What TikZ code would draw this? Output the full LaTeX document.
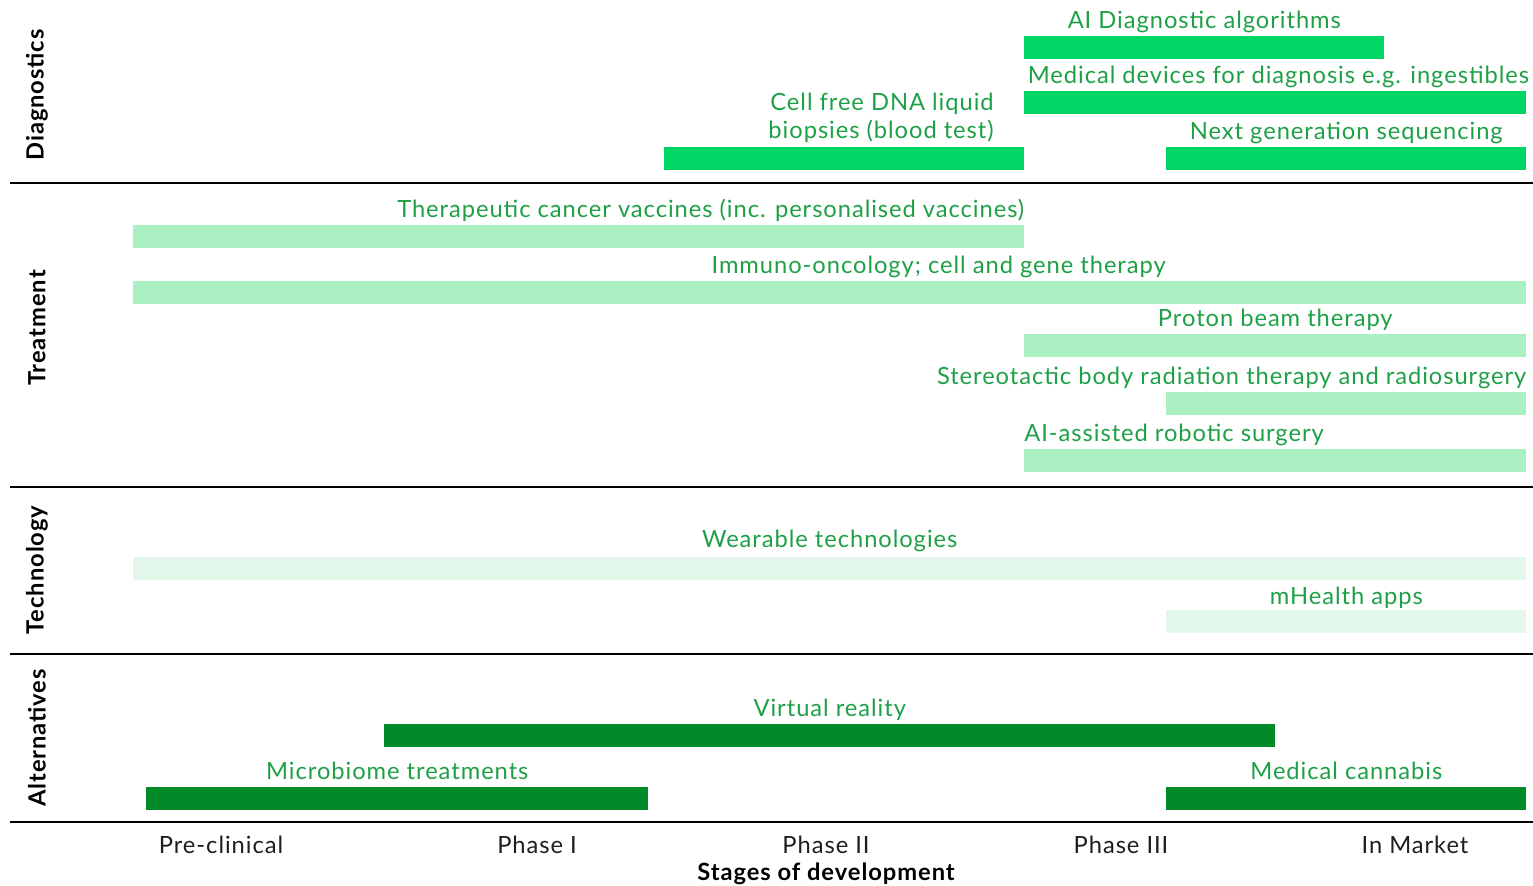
\documentclass[tikz,border=0pt]{standalone}
\usepackage{fontspec}
\setmainfont{Lato}[LetterSpace=4]
\usepackage{xcolor}
\usetikzlibrary{positioning}

\definecolor{diagGreen}{RGB}{0,214,100}
\definecolor{treatGreen}{RGB}{170,240,195}
\definecolor{techGreen}{RGB}{227,248,234}
\definecolor{altGreen}{RGB}{0,138,40}
\definecolor{labelGreen}{RGB}{30,160,70}
\definecolor{axisGrey}{RGB}{30,30,30}

\begin{document}
\begin{tikzpicture}[x=0.02cm, y=-0.02cm,
font=\fontsize{13.5}{16.5}\selectfont]

\tikzstyle{gbar}=[rectangle, draw=none, inner sep=0pt, anchor=north west,
minimum height=0.46cm]
\tikzstyle{diagbar}=[gbar, fill=diagGreen]
\tikzstyle{treatbar}=[gbar, fill=treatGreen]
\tikzstyle{techbar}=[gbar, fill=techGreen]
\tikzstyle{altbar}=[gbar, fill=altGreen]
\tikzstyle{lbl}=[text=labelGreen, inner sep=0pt]
\tikzstyle{stage}=[text=axisGrey, inner sep=0pt, anchor=base]
\tikzstyle{group}=[rotate=90, font=\fontsize{13.5}{16}\selectfont\bfseries, inner sep=0pt]
\tikzstyle{sep}=[black, line width=1.4pt]

\useasboundingbox (0,0) rectangle (1533,885);

%group titles
\node[group] (gdiag) at (37,95) {Diagnostics};
\node[group] (gtreat) at (37,328) {Treatment};
\node[group] (gtech) at (37,570) {Technology};
\node[group] (galt) at (37,738) {Alternatives};

%separators
\draw[sep] (10,183) -- (1533,183);
\draw[sep] (10,487) -- (1533,487);
\draw[sep] (10,654) -- (1533,654);
\draw[sep] (10,822) -- (1533,822);

%diagnostics
\node[diagbar, minimum width=7.2cm] (aidx) at (1024,36) {};
\node[lbl, above=4.5pt of aidx, anchor=base] (aidxl) {AI Diagnostic algorithms};

\node[diagbar, minimum width=10.04cm] (meddev) at (1024,91) {};
\node[lbl, above=4.5pt of meddev.north west, anchor=base west, xshift=2pt]
(meddevl) {Medical devices for diagnosis e.g. ingestibles};

\node[diagbar, minimum width=7.2cm] (cfdna) at (664,147) {};
\node[lbl, align=right, anchor=base east] (cfdnal) at (994,139)
{Cell free DNA liquid\\biopsies (blood test)};

\node[diagbar, minimum width=7.2cm] (ngs) at (1166,147) {};
\node[lbl, above=4.5pt of ngs, anchor=base] (ngsl) {Next generation sequencing};

%treatment
\node[treatbar, minimum width=17.82cm] (vacc) at (133,225) {};
\node[lbl, above=4.5pt of vacc.north east, anchor=base east]
(vaccl) {Therapeutic cancer vaccines (inc. personalised vaccines)};

\node[treatbar, minimum width=27.86cm] (immuno) at (133,281) {};
\node[lbl, anchor=base east] (immunol) at (1166,273)
{Immuno-oncology; cell and gene therapy};

\node[treatbar, minimum width=10.04cm] (proton) at (1024,334) {};
\node[lbl, above=4.5pt of proton, anchor=base] (protonl) {Proton beam therapy};

\node[treatbar, minimum width=7.2cm] (sbrt) at (1166,392) {};
\node[lbl, above=4.5pt of sbrt.north east, anchor=base east]
(sbrtl) {Stereotactic body radiation therapy and radiosurgery};

\node[treatbar, minimum width=10.04cm] (robot) at (1024,449) {};
\node[lbl, above=4.5pt of robot.north west, anchor=base west]
(robotl) {AI-assisted robotic surgery};

%technology
\node[techbar, minimum width=27.86cm] (wear) at (133,557) {};
\node[lbl, above=5.5pt of wear, anchor=base] (wearl) {Wearable technologies};

\node[techbar, minimum width=7.2cm] (mhealth) at (1166,610) {};
\node[lbl, above=3pt of mhealth, anchor=base] (mhealthl) {mHealth apps};

%alternatives
\node[altbar, minimum width=17.82cm] (vr) at (384,724) {};
\node[lbl, above=4.5pt of vr, anchor=base] (vrl) {Virtual reality};

\node[altbar, minimum width=10.04cm] (micro) at (146,787) {};
\node[lbl, above=4.5pt of micro, anchor=base] (microl) {Microbiome treatments};

\node[altbar, minimum width=7.2cm] (cann) at (1166,787) {};
\node[lbl, above=4.5pt of cann, anchor=base] (cannl) {Medical cannabis};

%stages
\node[stage] (pre) at (221,853) {Pre-clinical};
\node[stage] (ph1) at (537,853) {Phase I};
\node[stage] (ph2) at (826,853) {Phase II};
\node[stage] (ph3) at (1121,853) {Phase III};
\node[stage] (mkt) at (1415,853) {In Market};
\node[inner sep=0pt, anchor=base, font=\fontsize{13.5}{16}\selectfont\bfseries]
(xtitle) at (826,880) {Stages of development};

\end{tikzpicture}
\end{document}
